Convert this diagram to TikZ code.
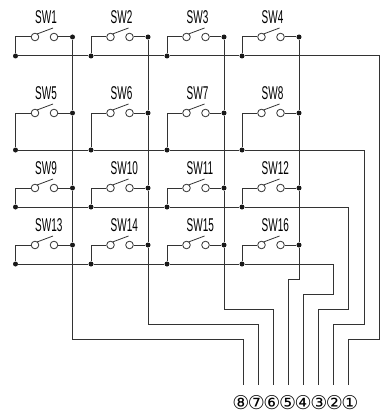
\documentclass[tikz,border=0pt]{standalone}
\usepackage{fontspec}
\setmainfont[FakeStretch=0.54]{Liberation Sans}
\newfontfamily\pinfont{DejaVu Sans}
\tikzset{
  wire/.style={line width=1pt,black!80},
  dot/.style={circle,fill=black!90,inner sep=0pt,minimum size=5pt},
  contact/.style={circle,draw=black!80,line width=.8pt,inner sep=0pt,minimum size=7.6pt},
  swname/.style={anchor=base west,inner sep=0pt,font=\fontsize{18.5}{19}\selectfont},
  pinname/.style={inner sep=0pt,font=\fontsize{19}{19}\pinfont},
}
\begin{document}
\begin{tikzpicture}[x=1pt,y=-1pt]
    \useasboundingbox (0,0) rectangle (387,412);

% Variables: number, left x, switch y, row line y
    \def\mkSwitch#1#2#3#4{
        \node[dot] (p#1) at (#2,#4) {};
        \node[dot] (q#1) at (#2+57,#3) {};
        \node[contact] (a#1) at (#2+19.5,#3) {};
        \node[contact] (b#1) at (#2+38.5,#3) {};
        \node[swname] (sw#1) at (#2+19.5,#3-13.7) {SW#1};
        \coordinate (c#1) at (#2+21.5,#3-3);
        \coordinate (d#1) at (#2+37.5,#3-9);

        \draw[wire] (p#1) |- (a#1);
        \draw[wire] (b#1) -- (q#1);
        \draw[wire,line width=.8pt] (c#1) -- (d#1);
    }

    \mkSwitch{1}{15.5}{37}{56}
    \mkSwitch{2}{91}{37}{56}
    \mkSwitch{3}{167}{37}{56}
    \mkSwitch{4}{242}{37}{56}

    \mkSwitch{5}{15.5}{113}{150}
    \mkSwitch{6}{91}{113}{150}
    \mkSwitch{7}{167}{113}{150}
    \mkSwitch{8}{242}{113}{150}

    \mkSwitch{9}{15.5}{188}{207}
    \mkSwitch{10}{91}{188}{207}
    \mkSwitch{11}{167}{188}{207}
    \mkSwitch{12}{242}{188}{207}

    \mkSwitch{13}{15.5}{245}{264}
    \mkSwitch{14}{91}{245}{264}
    \mkSwitch{15}{167}{245}{264}
    \mkSwitch{16}{242}{245}{264}

% Pins
    \node[pinname] (n1) at (350,402.5) {①};
    \node[pinname] (n2) at (334.4,402.5) {②};
    \node[pinname] (n3) at (318.8,402.5) {③};
    \node[pinname] (n4) at (303.2,402.5) {④};
    \node[pinname] (n5) at (287.6,402.5) {⑤};
    \node[pinname] (n6) at (272,402.5) {⑥};
    \node[pinname] (n7) at (256.4,402.5) {⑦};
    \node[pinname] (n8) at (240.8,402.5) {⑧};

    \coordinate (e1) at (348,385);
    \coordinate (e2) at (333,385);
    \coordinate (e3) at (318,385);
    \coordinate (e4) at (303,385);
    \coordinate (e5) at (288,385);
    \coordinate (e6) at (273,385);
    \coordinate (e7) at (258,385);
    \coordinate (e8) at (243,385);

% Corners
    \coordinate (k1) at (379,339.5);
    \coordinate (k2) at (364,324);
    \coordinate (k3) at (348,309);
    \coordinate (k4) at (333,294);
    \coordinate (k5) at (299,279);
    \coordinate (k6) at (224,309);
    \coordinate (k7) at (148,324);
    \coordinate (k8) at (72.5,339.5);

% Rows
    \draw[wire] (p1) -- (p2) -- (p3) -- (p4) -| (k1) -| (e1);
    \draw[wire] (p5) -- (p6) -- (p7) -- (p8) -| (k2) -| (e2);
    \draw[wire] (p9) -- (p10) -- (p11) -- (p12) -| (k3) -| (e3);
    \draw[wire] (p13) -- (p14) -- (p15) -- (p16) -| (k4) -| (e4);

% Columns
    \draw[wire] (q4) -- (q8) -- (q12) -- (q16) -- (k5) -| (e5);
    \draw[wire] (q3) -- (q7) -- (q11) -- (q15) -- (k6) -| (e6);
    \draw[wire] (q2) -- (q6) -- (q10) -- (q14) -- (k7) -| (e7);
    \draw[wire] (q1) -- (q5) -- (q9) -- (q13) -- (k8) -| (e8);

\end{tikzpicture}
\end{document}
